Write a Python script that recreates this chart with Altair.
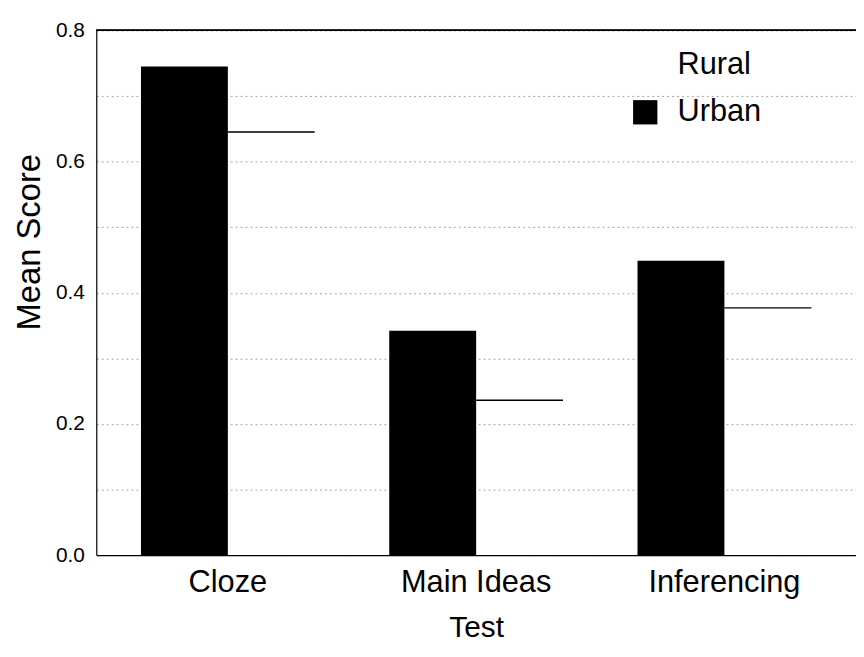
import altair as alt
import pandas as pd

tests = ["Cloze", "Main Ideas", "Inferencing"]
groups = ["Rural", "Urban"]
urban = [0.745, 0.342, 0.449]
rural = [0.645, 0.236, 0.377]
y_ticks = [0.0, 0.1, 0.2, 0.3, 0.4, 0.5, 0.6, 0.7, 0.8]

rows = []
for t, u, r in zip(tests, urban, rural):
    rows.append({"Test": t, "Area": "Urban", "Score": u})
    rows.append({"Test": t, "Area": "Rural", "Score": r})
df = pd.DataFrame(rows)

FONT = "Liberation Sans"

x = alt.X("Test:N", sort=tests, title="Test",
          scale=alt.Scale(paddingInner=0.30, paddingOuter=0.18),
          axis=alt.Axis(labelAngle=0, labelFontSize=31, labelPadding=13,
                        titleFontSize=30, titlePadding=15, ticks=False,
                        domainColor="black", labelColor="black",
                        titleColor="black", titleFontWeight="normal",
                        labelFont=FONT, titleFont=FONT))
xoff = alt.XOffset("Area:N", sort=["Urban", "Rural"])
y = alt.Y("Score:Q", title="Mean Score",
          scale=alt.Scale(domain=[0, 0.8], nice=False),
          axis=alt.Axis(values=y_ticks,
                        labelExpr="round(datum.value*10) % 2 == 0 ? format(datum.value, '.1f') : ''",
                        labelFontSize=21, labelPadding=12, ticks=False,
                        grid=True, gridDash=[2, 3], gridColor="#333",
                        gridOpacity=0.45, gridWidth=1,
                        titleFontSize=33, titleX=-57, titleY=213,
                        titleBaseline="alphabetic", titleAlign="center",
                        titleAngle=270,
                        domainColor="black", labelColor="black",
                        titleColor="black", titleFontWeight="normal",
                        labelFont=FONT, titleFont=FONT))

color = alt.Color("Area:N", scale=alt.Scale(domain=groups,
                                             range=["rgba(255,255,255,0)", "black"]),
                  legend=alt.Legend(title=None, orient="none", legendX=538, legendY=19,
                                    symbolType="square", symbolSize=600,
                                    labelFontSize=31, labelFont=FONT,
                                    labelColor="black", rowPadding=16,
                                    labelOffset=17, symbolStrokeWidth=0))

bars = alt.Chart(df).mark_bar().encode(x=x, xOffset=xoff, y=y, color=color)

tops = alt.Chart(df).transform_filter(alt.datum.Area == "Rural").mark_bar(
    stroke="black", strokeWidth=1.5, fillOpacity=0
).encode(x=x, xOffset=xoff, y="Score:Q", y2="Score:Q")

top_rule = alt.Chart(df).mark_rule(color="black", strokeWidth=1.2).encode(
    y=alt.datum(0.8))

chart = alt.layer(bars, tops, top_rule).properties(
    width=766, height=529, autosize="none",
    padding={"left": 89, "top": 20, "right": 0, "bottom": 91},
).configure_view(stroke=None).configure_axis(domainWidth=1.2)

chart.save("out.html", embed_options={"renderer": "svg", "actions": False})
